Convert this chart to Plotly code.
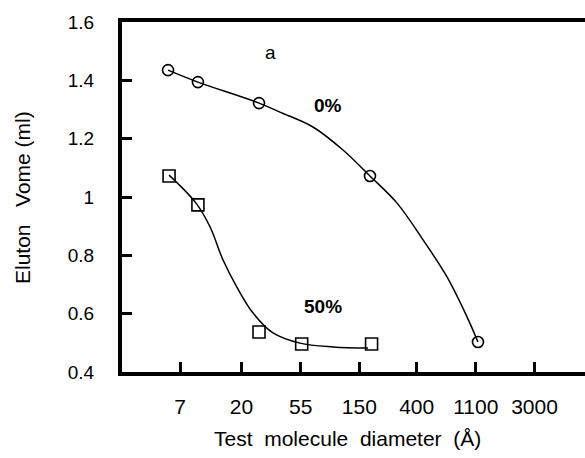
import plotly.graph_objects as go

# Data
tick_vals = [7, 20, 55, 150, 400, 1100, 3000]
tick_text = ["7", "20", "55", "150", "400", "1100", "3000"]

pct0_x = [5.7, 9.5, 27, 180, 1141]
pct0_y = [1.435, 1.394, 1.322, 1.072, 0.503]

pct50_x = [5.8, 9.5, 27, 56, 185]
pct50_y = [1.072, 0.973, 0.537, 0.496, 0.496]

# fitted curves
curve0_x = [5.7, 9.5, 27.0, 38.6, 67.9, 113.5, 180, 286, 446, 672, 946, 1141]
curve0_y = [1.435, 1.394, 1.322, 1.291, 1.240, 1.161, 1.072, 0.979, 0.853, 0.726, 0.589, 0.503]

curve50_x = [5.8, 9.2, 11.7, 14.6, 18.5, 24.4, 34.3, 54.4, 95.7, 174]
curve50_y = [1.075, 0.979, 0.897, 0.784, 0.691, 0.602, 0.534, 0.499, 0.486, 0.482]

FONT = "Liberation Sans, Arial, sans-serif"

fig = go.Figure()
fig.add_trace(go.Scatter(x=curve0_x, y=curve0_y, mode="lines",
                         line=dict(color="black", width=1.5, shape="spline", smoothing=1.0),
                         hoverinfo="skip", showlegend=False))
fig.add_trace(go.Scatter(x=curve50_x, y=curve50_y, mode="lines",
                         line=dict(color="black", width=1.5, shape="spline", smoothing=1.0),
                         hoverinfo="skip", showlegend=False))
fig.add_trace(go.Scatter(x=pct0_x, y=pct0_y, mode="markers", name="0%",
                         marker=dict(symbol="circle-open", size=11, color="black",
                                     line=dict(width=1.6, color="black")),
                         showlegend=False))
fig.add_trace(go.Scatter(x=pct50_x, y=pct50_y, mode="markers", name="50%",
                         marker=dict(symbol="square-open", size=12, color="black",
                                     line=dict(width=1.6, color="black")),
                         showlegend=False))

fig.update_layout(
    width=585, height=458,
    margin=dict(l=122, r=0, t=22, b=86),
    paper_bgcolor="white", plot_bgcolor="white",
    font=dict(family=FONT, size=19, color="black"),
    xaxis=dict(type="log", range=[0.414, 3.852],
               tickvals=tick_vals, ticktext=tick_text,
               ticks="inside", ticklen=10, tickwidth=3, tickcolor="black",
               showline=True, linewidth=4, linecolor="black", mirror=True,
               showgrid=False, zeroline=False, ticklabelstandoff=13,
               tickfont=dict(size=21)),
    yaxis=dict(range=[0.4, 1.6], tickvals=[0.4, 0.6, 0.8, 1.0, 1.2, 1.4, 1.6],
               ticktext=["0.4", "0.6", "0.8", "1", "1.2", "1.4", "1.6"],
               ticks="inside", ticklen=10, tickwidth=3, tickcolor="black",
               showline=True, linewidth=4, linecolor="black",
               showgrid=False, zeroline=False, ticklabelstandoff=20,
               tickfont=dict(size=19)),
    annotations=[
        dict(text="Eluton   Vome (ml)", xref="paper", yref="paper",
             x=-0.216, y=0.5, textangle=-90, showarrow=False,
             font=dict(size=21), xanchor="center", yanchor="middle"),
        dict(text="Test  molecule  diameter  (Å)", xref="paper", yref="paper",
             x=0.487, y=-0.189, showarrow=False, font=dict(size=21),
             xanchor="center", yanchor="middle"),
        dict(text="a", xref="x", yref="y", x=1.513, y=1.494, showarrow=False,
             font=dict(size=19)),
        dict(text="<b>0%</b>", xref="x", yref="y", x=1.944, y=1.315, showarrow=False,
             font=dict(size=19)),
        dict(text="<b>50%</b>", xref="x", yref="y", x=1.907, y=0.623, showarrow=False,
             font=dict(size=19)),
    ],
)

fig.write_html("out.html")
